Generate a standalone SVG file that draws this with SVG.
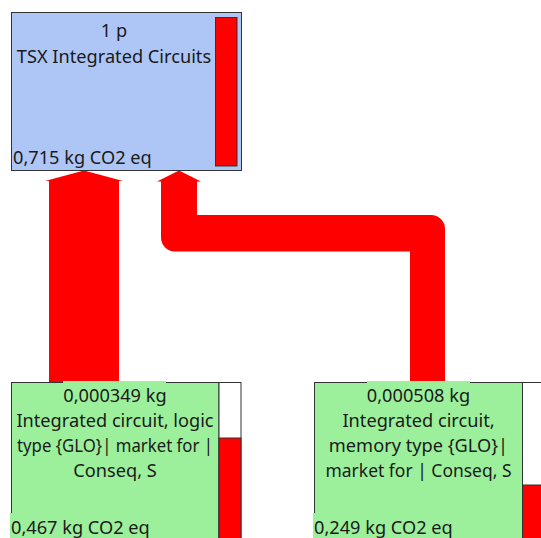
<svg xmlns="http://www.w3.org/2000/svg" width="541" height="538" viewBox="0 0 541 538">
<style>
text{font-family:"Noto Sans","Open Sans","DejaVu Sans",sans-serif;font-size:18.2px;fill:#1a1a1a}
.c{text-anchor:middle}
.box{stroke:#333;stroke-width:1}
.blue{fill:#aec6f5}
.green{fill:#9cf09c}
.bar{fill:#ff0000;stroke:#333;stroke-width:1}
.flow{fill:#ff0000}
</style>
<rect width="541" height="538" fill="#ffffff"/>
<g id="connectors">
<polygon class="flow" points="49,382 49,181 45,181 84,170.5 123,181 119,181 119,382"/>
<path class="flow" d="M161,181 V237.5 A14,14 0 0 0 175,251.5 H410 V382 H445 V229 A14,14 0 0 0 431,215 H197 V181 Z"/>
<polygon class="flow" points="157,181.5 179,170.5 201,181.5"/>
</g>
<g id="node-tsx">
<rect class="box blue" x="11.5" y="12.5" width="230" height="158"/>
<rect class="bar" x="215.5" y="17.5" width="21.5" height="148.5"/>
<text class="c" x="114" y="37">1 p</text>
<text class="c" x="114" y="62.5">TSX Integrated Circuits</text>
<text x="13" y="164">0,715 kg CO2 eq</text>
</g>
<g id="node-logic">
<rect class="box green" x="11.5" y="382.5" width="207.5" height="170"/>
<rect class="box" x="219" y="382.5" width="22" height="170" fill="#ffffff"/>
<rect class="bar" x="219" y="438" width="22" height="110"/>
<rect class="green" x="63" y="381" width="103" height="14"/>
<rect class="green" x="10" y="513" width="140" height="25"/>
<text class="c" x="115" y="402">0,000349 kg</text>
<text class="c" x="115" y="427">Integrated circuit, logic</text>
<text class="c" x="115" y="452" textLength="196" lengthAdjust="spacingAndGlyphs">type {GLO}| market for |</text>
<text class="c" x="115" y="477">Conseq, S</text>
<text x="11" y="534">0,467 kg CO2 eq</text>
</g>
<g id="node-memory">
<rect class="box green" x="314.5" y="382.5" width="208" height="170"/>
<rect class="box" x="522.5" y="382.5" width="22" height="170" fill="#ffffff"/>
<rect class="bar" x="522.5" y="485" width="22" height="70"/>
<rect class="green" x="367" y="381" width="103" height="14"/>
<rect class="green" x="313" y="513" width="142" height="25"/>
<text class="c" x="418.5" y="402">0,000508 kg</text>
<text class="c" x="418.5" y="427">Integrated circuit,</text>
<text class="c" x="418.5" y="452">memory type {GLO}|</text>
<text class="c" x="418.5" y="477" textLength="186" lengthAdjust="spacingAndGlyphs">market for | Conseq, S</text>
<text x="314" y="534">0,249 kg CO2 eq</text>
</g>
</svg>
